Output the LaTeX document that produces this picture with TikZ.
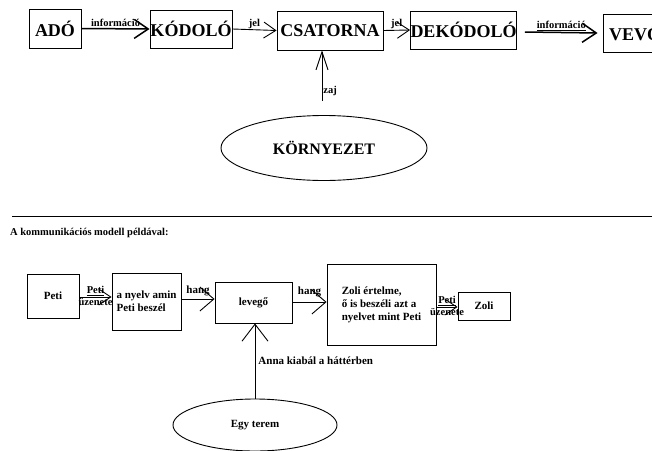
\documentclass[tikz,border=0pt]{standalone}
\usepackage{fontspec}
\setmainfont{Liberation Serif}
\usetikzlibrary{arrows.meta,shapes.geometric}

\begin{document}
\begin{tikzpicture}[x=1pt,y=-1pt,
  box/.style={draw,line width=0.9pt,inner sep=0pt,font=\bfseries\fontsize{11}{13}\selectfont},
  bigbox/.style={box,font=\bfseries\fontsize{18}{20}\selectfont},
  arr/.style={-{Straight Barb[length=12pt,width=16pt]},line width=0.9pt},
  infoarr/.style={-{Straight Barb[length=14pt,width=19pt]},line width=1.5pt},
  bigarr/.style={-{Straight Barb[length=14pt,width=24pt]},line width=0.9pt},
  lbl/.style={font=\bfseries\fontsize{10.5}{12}\selectfont,inner sep=1pt},
  env/.style={draw,ellipse,line width=0.9pt,inner sep=0pt,font=\bfseries}]
\useasboundingbox (0,0) rectangle (652,450);
% upper model
\node[bigbox,minimum width=52pt,minimum height=39pt] (ado) at (55,28.5) {ADÓ};
\node[bigbox,minimum width=82pt,minimum height=38pt] (kodolo) at (191,29) {KÓDOLÓ};
\node[bigbox,minimum width=106pt,minimum height=39pt] (csatorna) at (330,30.5) {CSATORNA};
\node[bigbox,minimum width=99pt,minimum height=38pt] (dekodolo) at (463.5,30) {DEKÓDOLÓ};
\node[bigbox,minimum width=64pt,minimum height=38pt] (vevo) at (635,33) {VEVŐ};
\node[env,minimum width=206pt,minimum height=65pt,font=\bfseries\fontsize{16}{18}\selectfont] (kornyezet) at (324,148) {KÖRNYEZET};
\coordinate (zajstart) at (322,101);
\draw[infoarr] (ado.east) -- (kodolo.west) node[lbl,midway,above] (info1) {információ};
\draw[arr] (kodolo.east) -- (csatorna.west) node[lbl,midway,above] (jel1) {jel};
\draw[arr] (csatorna.east) -- (dekodolo.west) node[lbl,midway,above] (jel2) {jel};
\draw[infoarr] (dekodolo.east) ++(8,2) coordinate (infostart) -- ([xshift=-5pt]vevo.west) node[lbl,midway,above] (info2) {\underline{információ}};
\draw[-{Straight Barb[length=18pt,width=12pt]},line width=0.9pt] (zajstart) -- (csatorna.south -| zajstart) node[lbl,pos=0.2,right] (zaj) {zaj};
% separator
\coordinate (sepleft) at (12,216);
\coordinate (sepright) at (652,216);
\draw[line width=1pt] (sepleft) -- (sepright);
\node[anchor=west,font=\bfseries\fontsize{10.5}{12}\selectfont,inner sep=0pt] (cim) at (10,233) {A kommunikációs modell példával:};
% example
\node[box,minimum width=52pt,minimum height=44pt] (peti) at (53,296) {Peti};
\node[box,minimum width=69pt,minimum height=57pt,align=left] (nyelv) at (146.5,301.5) {a nyelv amin\\Peti beszél};
\node[box,minimum width=77pt,minimum height=41pt] (levego) at (253.5,302.5) {levegő};
\node[box,minimum width=109pt,minimum height=81pt,align=left] (ertelme) at (381.5,304.5) {Zoli értelme,\\ő is beszéli azt a\\nyelvet mint Peti};
\node[box,minimum width=52pt,minimum height=28pt] (zoli) at (484,306) {Zoli};
\node[env,minimum width=164pt,minimum height=52pt,font=\bfseries\fontsize{11}{13}\selectfont] (terem) at (255,425) {Egy terem};
\draw[arr] (peti.east |- 0,297) -- (nyelv.west |- 0,297)
  node[lbl,midway,above] (peti1) {\underline{Peti}}
  node[lbl,midway,below] (uzenete1) {üzenete};
\draw[bigarr] (nyelv.east |- 0,299) -- (levego.west |- 0,299)
  node[lbl,midway,above=2pt,font=\bfseries\fontsize{11}{13}\selectfont] (hang1) {hang};
\draw[bigarr] (levego.east |- 0,302) -- (ertelme.west |- 0,302)
  node[lbl,midway,above=4pt,font=\bfseries\fontsize{11}{13}\selectfont] (hang2) {hang};
\draw[arr] (ertelme.east |- 0,307) -- (zoli.west |- 0,307)
  node[lbl,midway,above] (peti2) {\underline{Peti}}
  node[lbl,midway,below] (uzenete2) {üzenete};
\draw[-{Straight Barb[length=17pt,width=26pt]},line width=0.9pt] (terem.north) -- (levego.south -| terem.north)
  node[lbl,pos=0.5,right=2pt,font=\bfseries\fontsize{11}{13}\selectfont] (anna) {Anna kiabál a háttérben};
\end{tikzpicture}
\end{document}
